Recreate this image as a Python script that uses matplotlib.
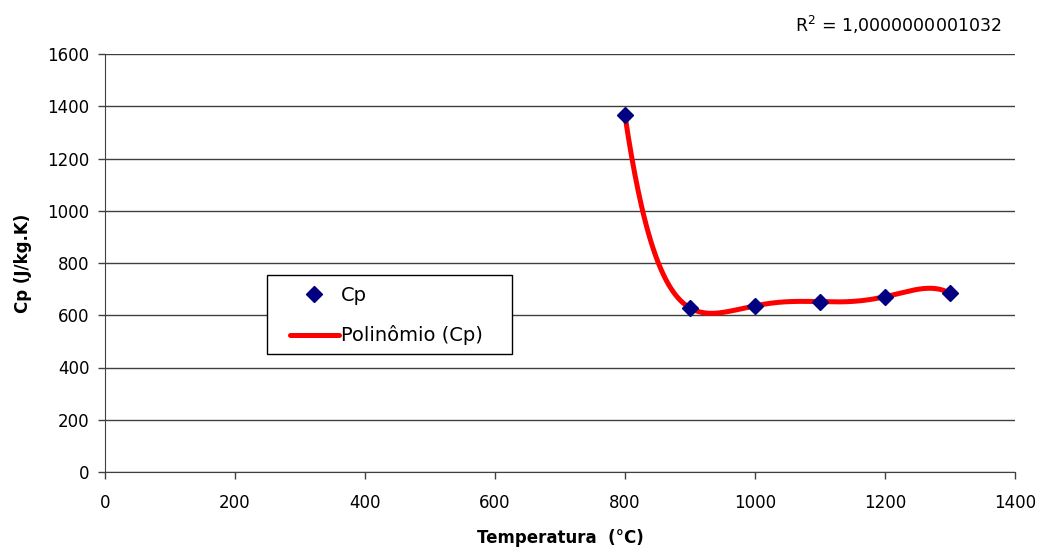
import numpy as np
import matplotlib
matplotlib.use("Agg")
import matplotlib.pyplot as plt
from matplotlib.lines import Line2D
from matplotlib.patches import Rectangle

plt.rcParams['font.family'] = ['DejaVu Sans']

# Specific heat measurements
temperatura = [800, 900, 1000, 1100, 1200, 1300]
cp = [1365, 628, 636, 652, 671, 684]

x_ticks = [0, 200, 400, 600, 800, 1000, 1200, 1400]
y_ticks = [0, 200, 400, 600, 800, 1000, 1200, 1400, 1600]
r2_label = "R$^2$ = 1,0000000001032"

fig = plt.figure(figsize=(10.41, 5.5), dpi=100)
ax = fig.add_axes([105/1041, 78/550, 910/1041, 418/550])

# Polynomial trend line (degree 5) through the measurements
poly = np.polynomial.Polynomial.fit(temperatura, cp, 5)
xs = np.linspace(min(temperatura), max(temperatura), 400)
ax.plot(xs, poly(xs), color='#ff0000', lw=3.6, solid_capstyle='round', zorder=2)
ax.plot(temperatura, cp, linestyle='none', marker='D', ms=8.5,
        color='#000080', zorder=3)

ax.set_xlim(0, 1400)
ax.set_ylim(0, 1600)
ax.set_xticks(x_ticks)
ax.set_yticks(y_ticks)
ax.tick_params(direction='out', length=5, width=1, color='#404040', labelsize=12)
ax.tick_params(axis='x', pad=11)
ax.tick_params(axis='y', pad=6)
ax.yaxis.grid(True, color='#404040', lw=1)
ax.set_axisbelow(True)
for s in ('top', 'right'):
    ax.spines[s].set_visible(False)
for s in ('left', 'bottom'):
    ax.spines[s].set_color('#404040')

ax.set_xlabel('Temperatura  (\u00b0C)', fontsize=12, fontweight='bold', labelpad=12)
ax.set_ylabel('Cp (J/kg.K)', fontsize=12, fontweight='bold', labelpad=11)

# Legend box
fig.add_artist(Rectangle((267/1041, 1 - 354/550), 245/1041, 79/550,
                         transform=fig.transFigure, facecolor='white',
                         edgecolor='#000000', lw=1, zorder=4))
handles = [Line2D([], [], linestyle='none', marker='D', ms=8.5, color='#000080'),
           Line2D([], [], color='#ff0000', lw=3.6, solid_capstyle='round')]
leg = fig.legend(handles, ['Cp', 'Polin\u00f4mio (Cp)'],
                 loc='upper left', bbox_to_anchor=(290/1041, 1 - 286/550),
                 frameon=False, fontsize=14, handlelength=2.5, handletextpad=0.12,
                 borderpad=0, labelspacing=1.05, borderaxespad=0)
leg.set_zorder(5)

fig.text(795/1041, 1 - 25/550, r2_label, fontsize=12.5, va='center', ha='left')

fig.savefig('out.png', dpi=100)
